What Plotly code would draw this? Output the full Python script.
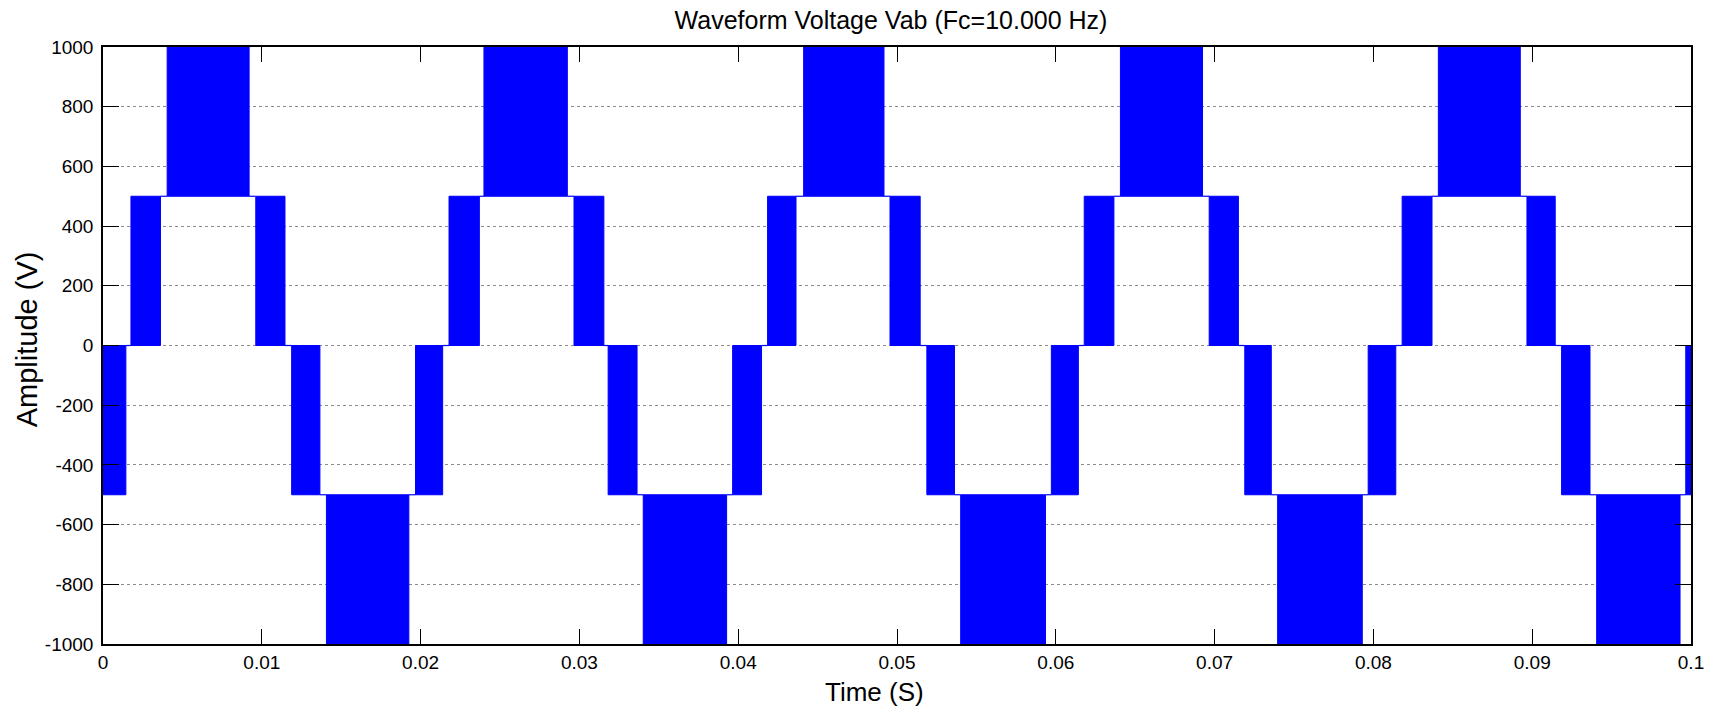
import plotly.graph_objects as go

# PWM switching bands (time in s, levels in V)
band_start = [0.00000, 0.00176, 0.00404, 0.00962, 0.01188, 0.01407, 0.01968,
              0.02179, 0.02399, 0.02966, 0.03181, 0.03402, 0.03965,
              0.04185, 0.04412, 0.04956, 0.05188, 0.05401, 0.05972,
              0.06179, 0.06407, 0.06966, 0.07190, 0.07397, 0.07967,
              0.08181, 0.08409, 0.08967, 0.09185, 0.09406, 0.09967]
band_end = [0.00144, 0.00362, 0.00920, 0.01146, 0.01366, 0.01926, 0.02139,
            0.02370, 0.02924, 0.03154, 0.03363, 0.03927, 0.04147,
            0.04364, 0.04918, 0.05146, 0.05362, 0.05935, 0.06142,
            0.06366, 0.06924, 0.07150, 0.07357, 0.07930, 0.08141,
            0.08369, 0.08925, 0.09145, 0.09364, 0.09931, 0.10000]
band_low = [-500, 0, 500, 0, -500, -1000, -500,
            0, 500, 0, -500, -1000, -500,
            0, 500, 0, -500, -1000, -500,
            0, 500, 0, -500, -1000, -500,
            0, 500, 0, -500, -1000, -500]
band_high = [0, 500, 1000, 500, 0, -500, 0,
             500, 1000, 500, 0, -500, 0,
             500, 1000, 500, 0, -500, 0,
             500, 1000, 500, 0, -500, 0,
             500, 1000, 500, 0, -500, 0]

y_ticks = [1000, 800, 600, 400, 200, 0, -200, -400, -600, -800, -1000]
y_tick_text = ["1000", "800", "600", "400", "200", "0", "-200", "-400", "-600", "-800", "-1000"]
x_ticks = [0, 0.01, 0.02, 0.03, 0.04, 0.05, 0.06, 0.07, 0.08, 0.09, 0.1]
x_tick_text = ["0", "0.01", "0.02", "0.03", "0.04", "0.05", "0.06", "0.07", "0.08", "0.09", "0.1"]

BLUE = "#0000FF"
FONT = "Liberation Sans, Arial, sans-serif"

# band polygons
bx, by = [], []
for s, e, lo, hi in zip(band_start, band_end, band_low, band_high):
    bx += [s, s, e, e, s, None]
    by += [lo, hi, hi, lo, lo, None]

# flat connecting segments between consecutive bands
cx, cy = [], []
for i in range(len(band_start) - 1):
    a_lo, a_hi = band_low[i], band_high[i]
    b_lo, b_hi = band_low[i + 1], band_high[i + 1]
    if a_hi == b_lo:
        lvl = a_hi
    elif a_lo == b_hi:
        lvl = a_lo
    else:
        lvl = a_lo
    cx += [band_end[i], band_start[i + 1], None]
    cy += [lvl, lvl, None]

fig = go.Figure()
fig.add_trace(go.Scatter(x=bx, y=by, mode="lines", fill="toself",
                         fillcolor=BLUE, line=dict(color=BLUE, width=1),
                         hoverinfo="skip", showlegend=False))
fig.add_trace(go.Scatter(x=cx, y=cy, mode="lines",
                         line=dict(color=BLUE, width=1.2),
                         hoverinfo="skip", showlegend=False))

W, H = 1716, 714
L, R, T, B = 103, 19, 47, 70
PW, PH = W - L - R, H - T - B

fig.update_layout(
    width=W, height=H,
    margin=dict(l=L, r=R, t=T, b=B, pad=0),
    paper_bgcolor="white", plot_bgcolor="white",
    font=dict(family=FONT, color="black", size=19),
    title=dict(text="Waveform Voltage Vab (Fc=10.000 Hz)", x=891 / W,
               xanchor="center", y=1 - 20 / H, yanchor="middle",
               yref="container", font=dict(family=FONT, size=25, color="black")),
    xaxis=dict(range=[0, 0.1], tickmode="array", tickvals=x_ticks, ticktext=x_tick_text,
               showgrid=False, zeroline=False, showline=True, linecolor="black",
               linewidth=1.5, mirror="ticks", ticks="inside", ticklen=15,
               tickcolor="black", tickwidth=1, tickfont=dict(size=19),
               fixedrange=True),
    yaxis=dict(range=[-1000, 1000], tickmode="array", tickvals=y_ticks, ticktext=y_tick_text,
               showgrid=True, gridcolor="#8c8c8c", griddash="dot", gridwidth=1,
               zeroline=False, showline=True, linecolor="black", linewidth=1.5,
               mirror="ticks", ticks="inside", ticklen=16, tickcolor="black",
               tickwidth=1, tickfont=dict(size=19), ticklabelstandoff=4,
               fixedrange=True),
    annotations=[
        dict(text="Time (S)", xref="paper", yref="paper", x=(877 - L) / PW, y=-48 / PH,
             xanchor="center", yanchor="middle", showarrow=False,
             font=dict(family=FONT, size=26, color="black")),
        dict(text="Amplitude (V)", xref="paper", yref="paper", x=-(L - 27) / PW,
             y=(644 - 339) / PH, xanchor="center", yanchor="middle", textangle=-90,
             showarrow=False, font=dict(family=FONT, size=29, color="black")),
    ],
)

fig.write_html("out.html", config={"displayModeBar": False},
               post_script="document.body.style.margin='0';document.body.style.overflow='hidden';")
